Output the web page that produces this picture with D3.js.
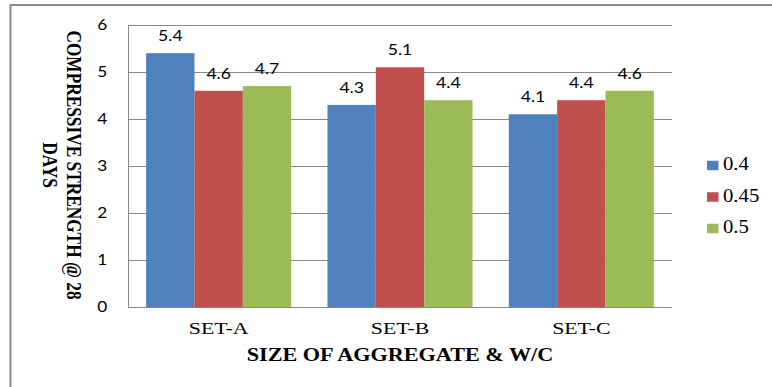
<!DOCTYPE html>
<html>
<head>
<meta charset="utf-8">
<script src="https://cdn.jsdelivr.net/npm/d3@7"></script>
<style>
  body { margin: 0; background: #fff; }
  svg { display: block; }
  .num_lbl { font-family: Lato, "Open Sans", sans-serif; fill: #000; }
  .serif { font-family: "Liberation Serif", "DejaVu Serif", serif; fill: #000; }
</style>
</head>
<body>
<svg id="chart" width="772" height="387"></svg>
<script>
// chart data
var categories = ["SET-A", "SET-B", "SET-C"];
var series_names = ["0.4", "0.45", "0.5"];
var values_04 = [5.4, 4.3, 4.1];
var values_045 = [4.6, 5.1, 4.4];
var values_05 = [4.7, 4.4, 4.6];
var y_ticks = [0, 1, 2, 3, 4, 5, 6];
var colors = ["#4F81BD", "#C0504D", "#9BBB59"];

var all_values = [values_04, values_045, values_05];

// the original picture is a bit wider than tall, so text gets a horizontal stretch
const STRETCH = 1.2;

var svg = d3.select("svg#chart");

// outer frame
svg.append("rect")
    .attr("x", 10.5).attr("y", 5)
    .attr("width", 800).attr("height", 400)
    .attr("fill", "none")
    .attr("stroke", "#8c8c8c")
    .attr("stroke-width", 2);

const PLOT_LEFT = 128, PLOT_RIGHT = 672, PLOT_TOP = 25, PLOT_BOTTOM = 307;

var xscale = d3.scaleBand()
    .domain(categories)
    .range([PLOT_LEFT, PLOT_RIGHT])
    .paddingInner(0.2)
    .paddingOuter(0.1);

var xsub = d3.scaleBand()
    .domain(series_names)
    .range([0, xscale.bandwidth()]);

var yscale = d3.scaleLinear()
    .domain([0, 6])
    .range([PLOT_BOTTOM, PLOT_TOP]);

// gridlines
svg.append("g").selectAll("line")
    .data(y_ticks)
    .join("line")
    .attr("x1", PLOT_LEFT).attr("x2", PLOT_RIGHT)
    .attr("y1", d => Math.round(yscale(d)) + 0.5)
    .attr("y2", d => Math.round(yscale(d)) + 0.5)
    .attr("stroke", "#888888")
    .attr("stroke-width", 1);

// plot left border
svg.append("line")
    .attr("x1", PLOT_LEFT + 0.5).attr("x2", PLOT_LEFT + 0.5)
    .attr("y1", PLOT_TOP).attr("y2", PLOT_BOTTOM + 1)
    .attr("stroke", "#888888");

// bars
var groups = svg.append("g").selectAll("g")
    .data(categories)
    .join("g")
    .attr("transform", d => "translate(" + xscale(d) + ",0)");

series_names.forEach(function(name, si) {
    groups.append("rect")
        .attr("x", xsub(name))
        .attr("y", (d, i) => yscale(all_values[si][i]))
        .attr("width", xsub.bandwidth())
        .attr("height", (d, i) => yscale(0) - yscale(all_values[si][i]))
        .attr("fill", colors[si]);

    // value labels above the bars
    groups.append("text")
        .attr("class", "num_lbl")
        .attr("transform", (d, i) => "translate(" + (xsub(name) + xsub.bandwidth() / 2) + ","
            + (yscale(all_values[si][i]) - 12) + ") scale(1.1,1)")
        .attr("text-anchor", "middle")
        .style("font-size", "16px")
        .text((d, i) => all_values[si][i].toFixed(1));
});

// y axis
var yaxis = d3.axisLeft(yscale)
    .tickValues(y_ticks)
    .tickSize(0)
    .tickPadding(18)
    .tickFormat(d3.format("d"));

var yg = svg.append("g")
    .attr("transform", "translate(" + PLOT_LEFT + ",0)")
    .call(yaxis);
yg.select(".domain").remove();
yg.attr("font-family", null).attr("font-size", null);
yg.selectAll("text")
    .attr("class", "num_lbl")
    .attr("transform", "scale(1.15,1)")
    .style("font-size", "15px");

// x axis
var xaxis = d3.axisBottom(xscale)
    .tickSize(0)
    .tickPadding(15);

var xg = svg.append("g")
    .attr("transform", "translate(0," + PLOT_BOTTOM + ")")
    .call(xaxis);
xg.select(".domain").remove();
xg.attr("font-family", null).attr("font-size", null);
xg.selectAll("text")
    .attr("class", "serif")
    .attr("transform", "scale(1.28,1)")
    .style("font-size", "17px");

// axis titles
svg.append("text")
    .attr("class", "serif")
    .attr("transform", "translate(400,361) scale(" + STRETCH + ",1)")
    .attr("text-anchor", "middle")
    .style("font-size", "18.5px")
    .style("font-weight", "bold")
    .text("SIZE OF AGGREGATE & W/C");

var ytitle = svg.append("text")
    .attr("class", "serif")
    .attr("transform", "translate(67,165) scale(" + STRETCH + ",1) rotate(90)")
    .attr("text-anchor", "middle")
    .style("font-size", "17.3px")
    .style("font-weight", "bold");
ytitle.append("tspan").attr("x", 0).attr("y", 0).text("COMPRESSIVE STRENGTH @ 28");
ytitle.append("tspan").attr("x", 0).attr("y", 20).text("DAYS");

// legend
var legend = svg.append("g").selectAll("g")
    .data(series_names)
    .join("g")
    .attr("transform", (d, i) => "translate(707," + (165.5 + i * 31.5) + ")");

legend.append("rect")
    .attr("x", 0).attr("y", -4.75)
    .attr("width", 11.5).attr("height", 9.5)
    .attr("fill", (d, i) => colors[i]);

legend.append("text")
    .attr("class", "serif")
    .attr("transform", "translate(16,4.5) scale(1.12,1)")
    .style("font-size", "18.5px")
    .text(d => d);
</script>
</body>
</html>
